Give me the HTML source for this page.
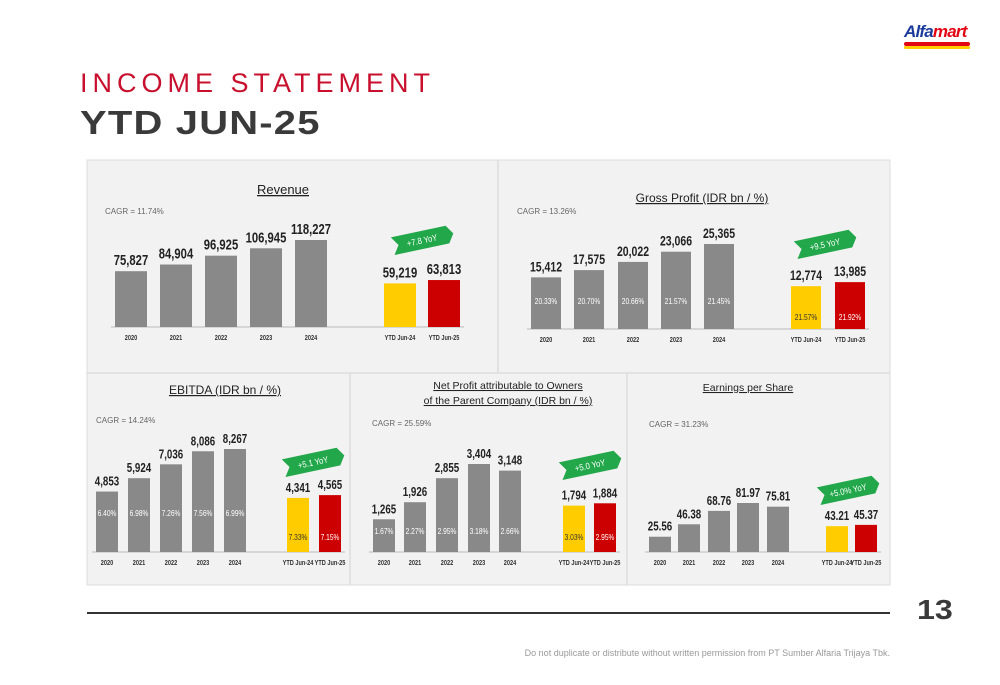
<!DOCTYPE html>
<html><head><meta charset="utf-8">
<style>
body{margin:0;width:1000px;height:685px;background:#fff;position:relative;overflow:hidden;font-family:"Liberation Sans",sans-serif}
.abs{position:absolute}
</style></head><body>
<div class="abs" style="left:904px;top:23px;width:66px;height:26px">
<div style="font:italic bold 17px 'Liberation Sans',sans-serif;line-height:17px;letter-spacing:-0.8px"><span style="color:#1a3a9c">Alfa</span><span style="color:#e30613">mart</span></div>
<div style="height:4px;background:#e30613;border-radius:2px;margin-top:2px"></div>
<div style="height:3px;background:#ffcc00;border-radius:2px"></div>
</div>
<div class="abs" style="left:80px;top:68px;font-size:27px;color:#c8102e;letter-spacing:5px">INCOME STATEMENT</div>
<div class="abs" style="left:80px;top:104px;font-size:33px;font-weight:900;color:#3a3a3a;letter-spacing:1px;transform:scaleX(1.21);transform-origin:0 0">YTD JUN-25</div>
<svg class="abs" style="left:0;top:0" width="1000" height="685" id="chart">
<rect x="87" y="160" width="803" height="425" fill="#f2f2f2" stroke="#dcdcdc"/>
<line x1="498" y1="160" x2="498" y2="373" stroke="#dcdcdc" stroke-width="1.5"/>
<line x1="87" y1="373" x2="890" y2="373" stroke="#dcdcdc" stroke-width="1.5"/>
<line x1="350" y1="373" x2="350" y2="585" stroke="#dcdcdc" stroke-width="1.5"/>
<line x1="627" y1="373" x2="627" y2="585" stroke="#dcdcdc" stroke-width="1.5"/>
</svg>
<div class="abs" style="left:87px;top:612px;width:803px;height:2px;background:#333"></div>
<div class="abs" style="left:917px;top:594px;font-size:28px;font-weight:900;color:#3a3a3a;transform:scaleX(1.15);transform-origin:0 0">13</div>
<div class="abs" style="right:110px;top:648px;font-size:9px;color:#999">Do not duplicate or distribute without written permission from PT Sumber Alfaria Trijaya Tbk.</div>
<script>
const categories=["2020","2021","2022","2023","2024","YTD Jun-24","YTD Jun-25"];
const revenueValues=[75827,84904,96925,106945,118227,59219,63813];
const grossValues=[15412,17575,20022,23066,25365,12774,13985];
const grossPct=["20.33%","20.70%","20.66%","21.57%","21.45%","21.57%","21.92%"];
const ebitdaValues=[4853,5924,7036,8086,8267,4341,4565];
const ebitdaPct=["6.40%","6.98%","7.26%","7.56%","6.99%","7.33%","7.15%"];
const netValues=[1265,1926,2855,3404,3148,1794,1884];
const netPct=["1.67%","2.27%","2.95%","3.18%","2.66%","3.03%","2.95%"];
const epsValues=[25.56,46.38,68.76,81.97,75.81,43.21,45.37];
const revenueLabels=["75,827","84,904","96,925","106,945","118,227","59,219","63,813"];
const grossLabels=["15,412","17,575","20,022","23,066","25,365","12,774","13,985"];
const ebitdaLabels=["4,853","5,924","7,036","8,086","8,267","4,341","4,565"];
const netLabels=["1,265","1,926","2,855","3,404","3,148","1,794","1,884"];
const epsLabels=["25.56","46.38","68.76","81.97","75.81","43.21","45.37"];
const yoyLabels=["+7.8 YoY","+9.5 YoY","+5.1 YoY","+5.0 YoY","+5.0% YoY"];
const cagrLabels=["CAGR = 11.74%","CAGR = 13.26%","CAGR = 14.24%","CAGR = 25.59%","CAGR = 31.23%"];

const svg=document.getElementById('chart');
const NS="http://www.w3.org/2000/svg";
function el(tag,attrs,text,parent){const e=document.createElementNS(NS,tag);for(const k in attrs)e.setAttribute(k,attrs[k]);if(text!==undefined)e.textContent=text;(parent||svg).appendChild(e);return e;}
function ctext(x,y,size,fill,txt,sx,weight){
  return el('text',{transform:`translate(${x},${y}) scale(${sx},1)`,x:0,y:0,'text-anchor':'middle','font-size':size,fill:fill,'font-weight':weight||'normal'},txt);
}
const colors=["#898989","#898989","#898989","#898989","#898989","#ffcc00","#cc0000"];
const panels=[
{key:"revenue",vals:revenueValues,labels:revenueLabels,pct:null,title:["Revenue"],titleY:[194],titleX:283,tsize:13,cagrX:105,cagrY:214,base:327,maxH:87,xs:[131,176,221,266,311,400,444],bw:32,lsize:15,yoy:[422,240],yoyI:0,cagrI:0,ytdPctY:0,pctY:0},
{key:"gross",vals:grossValues,labels:grossLabels,pct:grossPct,title:["Gross Profit (IDR bn / %)"],titleY:[202],titleX:702,tsize:12,cagrX:517,cagrY:214,base:329,maxH:85,xs:[546,589,633,676,719,806,850],bw:30,lsize:14,yoy:[825,244],yoyI:1,cagrI:1,pctY:304,ytdPctY:320},
{key:"ebitda",vals:ebitdaValues,labels:ebitdaLabels,pct:ebitdaPct,title:["EBITDA (IDR bn / %)"],titleY:[394],titleX:225,tsize:12,cagrX:96,cagrY:423,base:552,maxH:103,xs:[107,139,171,203,235,298,330],bw:22,lsize:13,yoy:[313,462],yoyI:2,cagrI:2,pctY:516,ytdPctY:540},
{key:"net",vals:netValues,labels:netLabels,pct:netPct,title:["Net Profit attributable to Owners","of the Parent Company (IDR bn / %)"],titleY:[389,404],titleX:508,tsize:10.5,cagrX:372,cagrY:426,base:552,maxH:88,xs:[384,415,447,479,510,574,605],bw:22,lsize:13,yoy:[590,465],yoyI:3,cagrI:3,pctY:534,ytdPctY:540},
{key:"eps",vals:epsValues,labels:epsLabels,pct:null,title:["Earnings per Share"],titleY:[391],titleX:748,tsize:10.5,cagrX:649,cagrY:427,base:552,maxH:49,xs:[660,689,719,748,778,837,866],bw:22,lsize:13,yoy:[848,490],yoyI:4,cagrI:4,pctY:0,ytdPctY:0}
];
panels.forEach(p=>{
  const max=Math.max(...p.vals.slice(0,5));
  const y=v=>p.base-v/max*p.maxH;
  p.title.forEach((t,i)=>{
    const tt=el('text',{x:p.titleX,y:p.titleY[i],'text-anchor':'middle','font-size':p.tsize,fill:'#222','text-decoration':'underline'},t);
    
    
  });
  const c=el('text',{x:p.cagrX,y:p.cagrY,'font-size':8,fill:'#666'},cagrLabels[p.cagrI]);
  
  
  const ax=el('line',{x1:p.xs[0]-p.bw/2-4,x2:p.xs[6]+p.bw/2+4,y1:p.base,y2:p.base,stroke:'#bbb','stroke-width':1});
  
  
  p.vals.forEach((v,i)=>{
    const top=y(v);
    const r=el('rect',{x:p.xs[i]-p.bw/2,y:top,width:p.bw,height:p.base-top,fill:colors[i]});
    
    
    const l=ctext(p.xs[i],top-6,p.lsize,'#222',p.labels[i],0.75,'bold');
    
    
    const cl=ctext(p.xs[i],p.base+13,7,'#333',categories[i],0.8,'bold');
    
    
    if(p.pct){
      const py=i<5?p.pctY:p.ytdPctY;
      const pc=ctext(p.xs[i],py,8.5,i==5?'#333':'#fff',p.pct[i],0.78);
      
      
    }
  });
  const [cx,cy]=p.yoy;
  const g=el('g',{transform:`translate(${cx},${cy}) rotate(-12)`});
  
  
  el('polygon',{points:'-30,-9 26,-9 32,0 26,9 -30,9 -24,0',fill:'#22a84a'},undefined,g);
  el('text',{transform:'scale(0.85,1)',x:0,y:3.5,'text-anchor':'middle','font-size':9,fill:'#fff'},yoyLabels[p.yoyI],g);
});
</script>
</body></html>
